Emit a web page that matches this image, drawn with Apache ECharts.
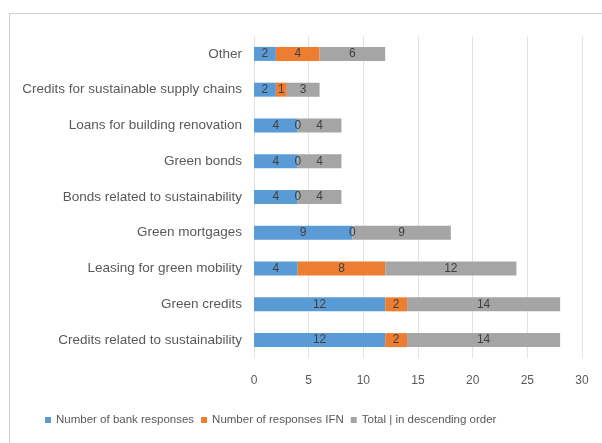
<!DOCTYPE html>
<html><head><meta charset="utf-8">
<script src="https://cdn.jsdelivr.net/npm/echarts@6/dist/echarts.min.js"></script>
<style>html,body{margin:0;padding:0;background:#fff}#c{width:602px;height:443px}</style>
</head><body><div id="c"></div>
<script>
const categories = ["Credits related to sustainability","Green credits","Leasing for green mobility","Green mortgages","Bonds related to sustainability","Green bonds","Loans for building renovation","Credits for sustainable supply chains","Other"];
const bankResponses = [12,12,4,9,4,4,4,2,2];
const ifnResponses = [2,2,8,0,0,0,0,1,4];
const totals = [14,14,12,9,4,4,4,3,6];
const seriesNames = ["Number of bank responses","Number of responses IFN","Total | in descending order"];
const xTicks = [0,5,10,15,20,25,30];

const FONT = "'Liberation Sans', Arial, sans-serif";
const colors = ["#5B9BD5","#ED7D31","#A5A5A5"];
const lbl = {show:true, position:'inside', color:'#404040', fontSize:12, fontFamily:FONT};
const chart = echarts.init(document.getElementById('c'), null, {renderer:'canvas'});
const dataSets = [bankResponses, ifnResponses, totals];
chart.setOption({
  animation:false,
  color:colors,
  graphic:[
    {type:'line', shape:{x1:10,y1:13.5,x2:602,y2:13.5}, style:{stroke:'#d0d0d0',lineWidth:1}},
    {type:'line', shape:{x1:9.5,y1:13,x2:9.5,y2:443}, style:{stroke:'#d0d0d0',lineWidth:1}}
  ],
  grid:{left:254,right:20,top:36,bottom:85},
  legend:{bottom:12,left:40,itemWidth:6,itemHeight:6,itemGap:7,icon:'rect',
    textStyle:{color:'#595959',fontSize:11.5,fontFamily:FONT},
    data:seriesNames},
  xAxis:{type:'value',min:xTicks[0],max:xTicks[xTicks.length-1],interval:5,
    axisLabel:{color:'#595959',fontSize:12,fontFamily:FONT,margin:17},
    splitLine:{lineStyle:{color:'#e3e3e3'}},axisLine:{show:false},axisTick:{show:false}},
  yAxis:{type:'category',data:categories,
    axisLabel:{color:'#595959',fontSize:13.5,fontFamily:FONT,margin:12},
    axisLine:{show:false},axisTick:{show:false}},
  series:dataSets.map((d,i)=>({name:seriesNames[i],type:'bar',stack:'s',data:d,barWidth:14,label:lbl}))
});
</script></body></html>
